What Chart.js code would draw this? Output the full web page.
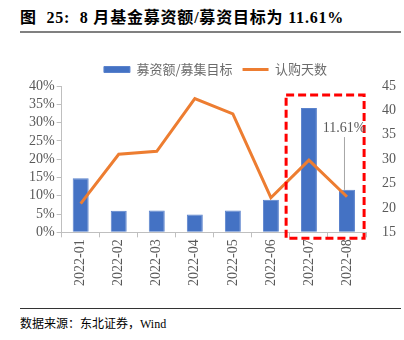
<!DOCTYPE html>
<html>
<head>
<meta charset="utf-8">
<script src="https://cdn.jsdelivr.net/npm/chart.js@4/dist/chart.umd.min.js"></script>
<style>
  body { margin: 0; width: 404px; height: 340px; background: #fff; position: relative; overflow: hidden; }
  #title { position: absolute; left: 20px; top: 4px; font: bold 16px 'Liberation Serif', 'Noto Sans CJK SC', serif; color: #000; white-space: pre; letter-spacing: 0.8px; }
  #titleRule { position: absolute; left: 20px; top: 31px; width: 381px; height: 2px; background: #808080; }
  #srcRule { position: absolute; left: 20px; top: 308px; width: 381px; height: 1px; background: #333; }
  #source { position: absolute; left: 20px; top: 314px; font: 12px 'Liberation Serif', 'Noto Sans CJK SC', serif; color: #000; white-space: nowrap; }
  #wrap { position: absolute; left: 0; top: 40px; width: 404px; height: 258px; }
</style>
</head>
<body>
<div id="title">图  25:  8 月基金募资额/募资目标为 11.61%</div>
<div id="titleRule"></div>
<div id="wrap"><canvas id="c"></canvas></div>
<div id="srcRule"></div>
<div id="source">数据来源：东北证券，Wind</div>
<script>
// Monthly data
const months = ['2022-01', '2022-02', '2022-03', '2022-04', '2022-05', '2022-06', '2022-07', '2022-08'];
const raiseRatio = [14.8, 5.9, 6.0, 4.9, 6.0, 8.9, 34.0, 11.61];   // 募资额/募集目标 (%)
const subscribeDays = [20.9, 31.0, 31.6, 42.4, 39.3, 22.1, 29.8, 22.3]; // 认购天数
const leftTicks = [0, 40, 5];
const rightTicks = [15, 45, 5];
const highlightFrom = 6; // 2022-07 onwards is boxed
const calloutIndex = 7;
const calloutText = '11.61%';

const serif = "'Liberation Serif', 'Times New Roman', serif";
const cjk = "'Noto Sans CJK SC', sans-serif";

// red dashed box + callout label
const highlightPlugin = {
    id: 'highlight',
    afterDatasetsDraw(chart) {
        const ctx = chart.ctx;
        const x = chart.scales.x, y = chart.scales.y;
        const step = x.getPixelForValue(1) - x.getPixelForValue(0);
        const left = x.getPixelForValue(highlightFrom) - step * 0.6;
        const right = x.getPixelForValue(months.length - 1) + step * 0.45;
        const top = y.getPixelForValue(leftTicks[1]) + 9;
        const bottom = y.getPixelForValue(0) + 6;
        ctx.save();
        ctx.strokeStyle = '#ff0000';
        ctx.lineWidth = 3;
        ctx.setLineDash([8, 4]);
        ctx.strokeRect(left, top, right - left, bottom - top);
        ctx.restore();

        // callout
        const cx = x.getPixelForValue(calloutIndex) - 3;
        const barTop = y.getPixelForValue(raiseRatio[calloutIndex]);
        const ty = y.getPixelForValue(28.5);
        ctx.save();
        ctx.strokeStyle = '#a6a6a6';
        ctx.lineWidth = 1;
        ctx.beginPath();
        ctx.moveTo(cx + 0.5, ty + 9);
        ctx.lineTo(cx + 0.5, barTop);
        ctx.stroke();
        ctx.fillStyle = '#595959';
        ctx.font = '14px ' + serif;
        ctx.textAlign = 'center';
        ctx.textBaseline = 'middle';
        ctx.fillText(calloutText, cx, ty);
        ctx.restore();
    }
};

new Chart(document.getElementById('c'), {
    data: {
        labels: months,
        datasets: [
            {
                type: 'line',
                label: '认购天数',
                data: subscribeDays,
                yAxisID: 'y1',
                borderColor: '#ED7D31',
                backgroundColor: '#ED7D31',
                borderWidth: 3,
                pointRadius: 0,
                tension: 0,
                pointStyle: 'line',
                order: 0
            },
            {
                type: 'bar',
                label: '募资额/募集目标',
                data: raiseRatio,
                yAxisID: 'y',
                backgroundColor: '#4472C4',
                borderColor: '#5a82cc',
                borderWidth: 1,
                barPercentage: 0.42,
                categoryPercentage: 1,
                pointStyle: 'rect',
                order: 1
            }
        ]
    },
    options: {
        responsive: true,
        maintainAspectRatio: false,
        animation: false,
        layout: { padding: { top: 13, left: 27, right: 0, bottom: 10 } },
        plugins: {
            legend: {
                position: 'top',
                reverse: true,
                labels: {
                    usePointStyle: true,
                    pointStyleWidth: 26,
                    boxHeight: 6,
                    padding: 10,
                    color: '#6b6b6b',
                    font: { size: 13, family: cjk }
                }
            },
            tooltip: { enabled: false }
        },
        scales: {
            x: {
                grid: { display: true, drawOnChartArea: false, offset: true, color: '#bfbfbf', tickLength: 5 },
                border: { color: '#bfbfbf' },
                ticks: { color: '#595959', font: { size: 14, family: serif }, minRotation: 90, maxRotation: 90, padding: 2 }
            },
            y: {
                position: 'left',
                min: leftTicks[0], max: leftTicks[1],
                grid: { display: true, drawOnChartArea: false, color: '#bfbfbf', tickLength: 5 },
                border: { color: '#bfbfbf' },
                ticks: { stepSize: leftTicks[2], autoSkip: false, color: '#595959', font: { size: 14, family: serif }, padding: 2,
                         callback: v => v + '%' }
            },
            y1: {
                position: 'right',
                min: rightTicks[0], max: rightTicks[1],
                grid: { display: false },
                border: { display: false },
                ticks: { stepSize: rightTicks[2], autoSkip: false, color: '#595959', font: { size: 14, family: serif }, padding: 8 }
            }
        }
    },
    plugins: [highlightPlugin]
});
</script>
</body>
</html>
